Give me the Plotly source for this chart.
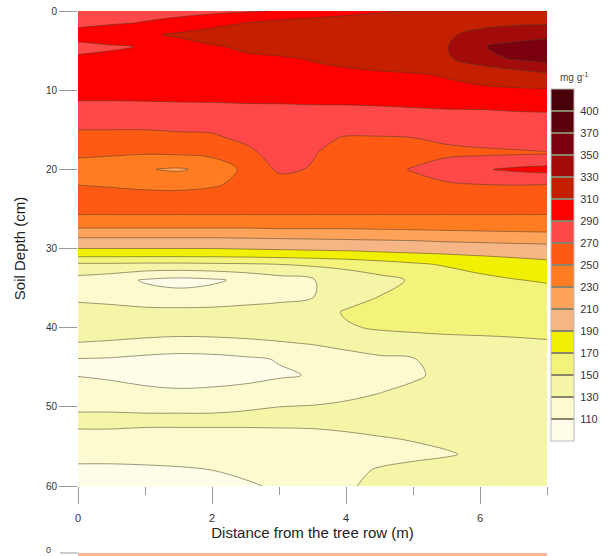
import plotly.graph_objects as go

# ---------------- data ----------------
distance = [0, 0.5, 1, 1.5, 2, 2.5, 3, 3.5, 4, 4.5, 5, 5.5, 6, 6.5, 7]
depth = [0, 1.5, 3, 4.5, 6, 8, 10, 12, 14, 16, 18, 20, 22, 24, 26, 27.5, 29,
         30.5, 32, 34, 36, 38, 40, 42, 44, 46, 48, 50, 52, 54, 56, 58, 60]

conc = [
    [282, 283, 284, 285, 286, 288, 291, 296, 302, 307, 312, 316, 320, 323, 325],
    [286, 288, 291, 295, 302, 310, 316, 320, 322, 324, 326, 327, 328, 328, 328],
    [296, 302, 307, 313, 320, 324, 326, 327, 328, 328, 329, 329, 332, 337, 342],
    [286, 288, 291, 300, 308, 313, 317, 320, 323, 325, 327, 329, 348, 358, 366],
    [292, 294, 297, 301, 304, 307, 308, 311, 314, 317, 320, 327, 342, 352, 358],
    [306, 306, 306, 306, 306, 306, 306, 306, 307, 308, 309, 311, 314, 320, 327],
    [298, 298, 299, 299, 300, 301, 302, 303, 304, 305, 306, 307, 308, 308, 308],
    [286, 286, 286, 287, 287, 288, 288, 289, 289, 290, 291, 292, 292, 293, 294],
    [274, 274, 274, 275, 275, 276, 277, 278, 279, 280, 281, 282, 283, 284, 284],
    [266, 266, 266, 267, 268, 273, 277, 274, 269, 269, 270, 273, 275, 276, 277],
    [252, 252, 251, 252, 255, 266, 276, 271, 264, 263, 264, 266, 267, 268, 269],
    [245, 240, 231, 228, 235, 255, 273, 269, 262, 265, 271, 281, 288, 293, 296],
    [250, 248, 245, 244, 248, 255, 262, 264, 264, 264, 265, 267, 269, 270, 269],
    [262, 262, 262, 262, 262, 262, 262, 262, 262, 262, 262, 262, 262, 262, 262],
    [248, 248, 248, 248, 248, 248, 248, 248, 248, 248, 248, 248, 248, 248, 248],
    [229, 229, 229, 229, 229, 229, 230, 230, 230, 231, 232, 233, 234, 235, 236],
    [204, 204, 204, 204, 204, 205, 206, 207, 208, 209, 210, 212, 213, 214, 215],
    [183, 183, 183, 183, 183, 184, 185, 186, 187, 189, 191, 193, 195, 197, 198],
    [147, 147, 146, 146, 147, 148, 150, 153, 157, 162, 167, 172, 177, 181, 185],
    [123, 118, 108, 104, 107, 114, 122, 129, 136, 144, 152, 159, 165, 169, 172],
    [126, 123, 118, 116, 118, 122, 125, 129, 140, 150, 155, 158, 160, 161, 162],
    [136, 136, 135, 135, 135, 136, 137, 140, 152, 155, 156, 157, 157, 157, 157],
    [142, 142, 141, 140, 140, 141, 142, 143, 148, 152, 153, 153, 153, 153, 153],
    [129, 127, 124, 122, 123, 125, 128, 131, 135, 139, 143, 146, 147, 148, 149],
    [109, 108, 105, 103, 104, 107, 111, 117, 123, 127, 129, 136, 141, 144, 146],
    [109, 106, 102, 100, 101, 104, 108, 111, 118, 123, 127, 135, 141, 144, 145],
    [121, 118, 114, 112, 113, 115, 118, 121, 125, 129, 134, 139, 142, 144, 145],
    [128, 128, 128, 128, 128, 129, 130, 131, 133, 136, 140, 143, 144, 145, 145],
    [134, 134, 133, 133, 133, 133, 133, 133, 134, 136, 139, 142, 144, 145, 145],
    [124, 124, 123, 123, 123, 123, 124, 125, 127, 129, 131, 135, 140, 143, 145],
    [116, 116, 116, 117, 118, 119, 121, 123, 125, 126, 126, 128, 134, 140, 144],
    [106, 106, 107, 108, 110, 113, 117, 122, 127, 131, 135, 140, 143, 145, 145],
    [101, 101, 102, 103, 105, 108, 112, 119, 128, 134, 139, 142, 144, 145, 145],
]

# contour levels (colour-key boundaries) and their printed labels
level_values = [110, 130, 150, 170, 190, 210, 230, 250, 270, 290, 310, 330, 350, 370, 390]
level_labels = ["110", "130", "150", "170", "190", "210", "230", "250", "270",
                "290", "310", "330", "350", "370", "400"]
# one colour per band, lowest band first
band_colors = ["#fdfde8", "#fbfbcf", "#f5f5a8", "#f3f37c", "#f0f000", "#f5b585",
               "#ffa35a", "#ff7d20", "#ff5a14", "#ff4848", "#ff0000", "#c42000",
               "#a30a0a", "#7a0010", "#5e000c", "#48000a"]

x_ticks = [0, 2, 4, 6]
y_ticks = [0, 10, 20, 30, 40, 50, 60]

# ---------------- figure ----------------
FONT = "Liberation Sans, Arial, sans-serif"
LINE_COL = "rgba(70,62,40,0.75)"

nb = len(band_colors)
# colours for the contour fill (band k sampled at k/(nb-1))
contour_scale = [[i / (nb - 1), c] for i, c in enumerate(band_colors)]

# stepped scale for the colour key (equal boxes, thin separators)
key_scale = []
sep = "#8c846a"
eps = 0.0016
for i, c in enumerate(band_colors):
    lo, hi = i / nb, (i + 1) / nb
    key_scale.append([lo if i == 0 else lo + eps, c])
    key_scale.append([hi if i == nb - 1 else hi - eps, c])
    if i < nb - 1:
        key_scale.append([hi - eps, sep])
        key_scale.append([hi + eps, sep])
key_min = level_values[0] - 20
key_max = level_values[-1] + 20

fig = go.Figure()

# invisible layer that only supplies the colour key
fig.add_trace(go.Heatmap(
    x=distance, y=depth, z=conc,
    zmin=key_min, zmax=key_max, colorscale=key_scale,
    opacity=0, hoverinfo="skip",
    colorbar=dict(
        thickness=23, thicknessmode="pixels",
        len=352, lenmode="pixels",
        x=1.008, xanchor="left", xref="paper",
        y=0.0947, yanchor="bottom", yref="paper",
        xpad=0, ypad=0,
        outlinewidth=1, outlinecolor="#bbbbbb",
        tickvals=level_values, ticktext=level_labels,
        ticks="outside", ticklen=4, tickcolor="rgba(0,0,0,0)",
        tickfont=dict(family=FONT, size=11, color="#333333"),
    ),
))

fig.add_trace(go.Contour(
    x=distance, y=depth, z=conc,
    colorscale=contour_scale,
    autocontour=False,
    contours=dict(start=level_values[0], end=level_values[-1], size=20, coloring="fill"),
    line=dict(color=LINE_COL, width=0.7, smoothing=1.0),
    showscale=False,
    hoverinfo="skip",
))

fig.update_layout(
    width=610, height=556,
    margin=dict(l=78, r=58, t=11, b=70),
    paper_bgcolor="white", plot_bgcolor="white",
    font=dict(family=FONT, color="#333333"),
    showlegend=False,
)

fig.update_xaxes(
    range=[0, 7], tickvals=x_ticks, ticktext=[str(v) for v in x_ticks],
    ticks="outside", ticklen=17, tickcolor="#9a9a9a", tickwidth=1,
    minor=dict(dtick=1, tick0=0, ticks="outside", ticklen=8, tickcolor="#9a9a9a"),
    showgrid=False, zeroline=False, showline=False,
    tickfont=dict(size=11, color="#333333"),
    ticklabelstandoff=5,
    title=dict(text="Distance from the tree row (m)", font=dict(size=15, color="#222222"),
               standoff=3),
    automargin=False,
)
fig.update_yaxes(
    range=[60, 0], tickvals=y_ticks, ticktext=[str(v) for v in y_ticks],
    ticks="outside", ticklen=18, tickcolor="#9a9a9a", tickwidth=1,
    showgrid=False, zeroline=False, showline=False,
    tickfont=dict(size=10, color="#333333"),
    title=dict(text="Soil Depth (cm)", font=dict(size=15, color="#222222"), standoff=16),
    automargin=False,
)

# colour-key unit label
fig.add_annotation(xref="paper", yref="paper", x=1.058, y=0.861,
                   text="mg g<sup>-1</sup>", showarrow=False,
                   font=dict(family=FONT, size=10, color="#444444"),
                   xanchor="center", yanchor="middle")

# top edge of the next panel (cropped in the original image)
fig.add_shape(type="rect", xref="paper", yref="paper", x0=0, x1=1,
              y0=-0.141, y1=-0.16, fillcolor="#ffb596", line=dict(width=0), layer="above")
fig.add_shape(type="line", xref="paper", yref="paper", x0=-0.038, x1=0,
              y0=-0.141, y1=-0.141, line=dict(color="#9a9a9a", width=1))
fig.add_annotation(xref="paper", yref="paper", x=-0.062, y=-0.134, text="0",
                   showarrow=False, font=dict(family=FONT, size=9, color="#333333"),
                   xanchor="center", yanchor="middle")

fig.write_html("out.html")
